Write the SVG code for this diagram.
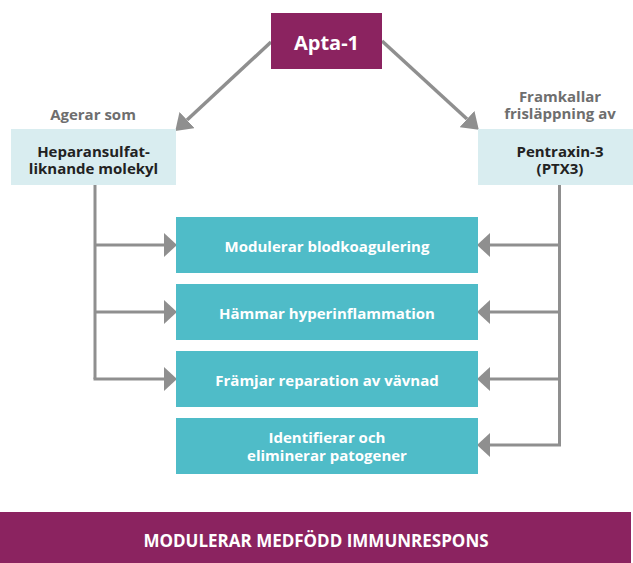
<svg xmlns="http://www.w3.org/2000/svg" width="633" height="563" viewBox="0 0 633 563">
<style>
.purple{fill:#8B2360}
.light{fill:#D9EDF0}
.teal{fill:#4FBCC8}
.conn{fill:none;stroke:#8F8F8F;stroke-width:3}
.diag{fill:none;stroke:#8F8F8F;stroke-width:3.5}
text{font-family:"Open Sans","Noto Sans","Liberation Sans",sans-serif;font-weight:700;text-anchor:middle}
.w{fill:#FFFFFF;font-size:15px}
.dk{fill:#222222;font-size:15px}
.gr{fill:#6E6E6E;font-size:15px}
</style>
<defs>
<marker id="ah" markerUnits="userSpaceOnUse" markerWidth="13" markerHeight="24" refX="0" refY="12" orient="auto" viewBox="0 0 13 24">
<path d="M0,0 L13,12 L0,24 z" fill="#8F8F8F"/>
</marker>
<marker id="ad" markerUnits="userSpaceOnUse" markerWidth="16" markerHeight="22" refX="0" refY="11" orient="auto" viewBox="0 0 16 22">
<path d="M0,0 L16,11 L0,22 z" fill="#8F8F8F"/>
</marker>
</defs>
<g id="connectors">
<line class="diag" x1="271" y1="42" x2="187" y2="120" marker-end="url(#ad)"/>
<line class="diag" x1="382" y1="41" x2="467" y2="119" marker-end="url(#ad)"/>
<path class="conn" d="M95,185 V379"/>
<line class="conn" x1="95" y1="245" x2="164" y2="245" marker-end="url(#ah)"/>
<line class="conn" x1="95" y1="312" x2="164" y2="312" marker-end="url(#ah)"/>
<line class="conn" x1="93.5" y1="379" x2="164" y2="379" marker-end="url(#ah)"/>
<path class="conn" d="M559.5,185 V445"/>
<line class="conn" x1="559.5" y1="245" x2="490" y2="245" marker-end="url(#ah)"/>
<line class="conn" x1="559.5" y1="312" x2="490" y2="312" marker-end="url(#ah)"/>
<line class="conn" x1="559.5" y1="379" x2="490" y2="379" marker-end="url(#ah)"/>
<line class="conn" x1="561" y1="445" x2="490" y2="445" marker-end="url(#ah)"/>
</g>
<g id="apta">
<rect class="purple" x="271" y="13" width="111" height="56"/>
<text class="w" x="326.5" y="50" style="font-size:20px">Apta-1</text>
</g>
<g id="label-left">
<text class="gr" x="93" y="120">Agerar som</text>
</g>
<g id="label-right">
<text class="gr" x="560" y="101.5">Framkallar</text>
<text class="gr" x="560" y="118.5">frisläppning av</text>
</g>
<g id="heparan">
<rect class="light" x="11" y="129" width="165" height="56"/>
<text class="dk" x="93.5" y="156.5">Heparansulfat-</text>
<text class="dk" x="93.5" y="173.5">liknande molekyl</text>
</g>
<g id="ptx3">
<rect class="light" x="478" y="129" width="155" height="56"/>
<text class="dk" x="560" y="156.5">Pentraxin-3</text>
<text class="dk" x="560" y="173.5">(PTX3)</text>
</g>
<g id="box1">
<rect class="teal" x="176" y="217" width="302" height="56"/>
<text class="w" x="327" y="251.5">Modulerar blodkoagulering</text>
</g>
<g id="box2">
<rect class="teal" x="176" y="284" width="302" height="56"/>
<text class="w" x="327" y="318.5">Hämmar hyperinflammation</text>
</g>
<g id="box3">
<rect class="teal" x="176" y="351" width="302" height="56"/>
<text class="w" x="327" y="385.5">Främjar reparation av vävnad</text>
</g>
<g id="box4">
<rect class="teal" x="176" y="418" width="302" height="56"/>
<text class="w" x="327" y="443">Identifierar och</text>
<text class="w" x="327" y="461">eliminerar patogener</text>
</g>
<g id="bottom">
<rect class="purple" x="0" y="512" width="631" height="51"/>
<text class="w" x="316" y="547" style="font-size:17px">MODULERAR MEDFÖDD IMMUNRESPONS</text>
</g>
</svg>
